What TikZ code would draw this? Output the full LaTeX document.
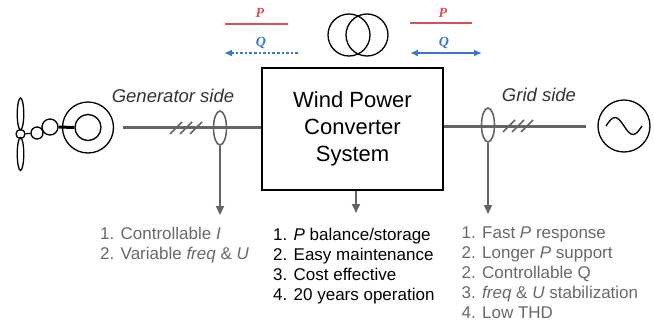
\documentclass[tikz,border=0pt]{standalone}
\usepackage{fontspec}
\setmainfont{Liberation Sans}
\newfontfamily\pqfont{Liberation Serif}
\usetikzlibrary{shapes.geometric,arrows.meta}
\definecolor{wire}{RGB}{100,100,100}
\definecolor{txtgray}{RGB}{105,105,105}
\definecolor{pred}{RGB}{214,82,82}
\definecolor{qblue}{RGB}{58,118,204}
\begin{document}
\begin{tikzpicture}[x=1pt,y=-1pt,
  symb/.style={draw=black,line width=1.3pt,inner sep=0pt},
  ring/.style={symb,circle},
  wireline/.style={draw=wire,line width=3pt},
  ctring/.style={ellipse,draw=wire,line width=1.6pt,inner sep=0pt,minimum width=13pt,minimum height=34pt},
  hashmark/.style={draw=wire,line width=1.6pt},
  downarrow/.style={draw=wire,line width=1.6pt,-{Triangle[length=9pt,width=8pt]}},
  sidelabel/.style={font=\itshape\fontsize{18.5}{20}\selectfont,text=black!80,inner sep=0pt},
  listtext/.style={align=left,anchor=north west,inner sep=0pt,font=\fontsize{17}{20}\selectfont},
  plabel/.style={font=\pqfont\bfseries\itshape\fontsize{14}{14}\selectfont,text=pred,inner sep=0pt},
  qlabel/.style={font=\pqfont\bfseries\itshape\fontsize{14}{14}\selectfont,text=qblue,inner sep=0pt},
  pline/.style={draw=pred,line width=1.4pt},
  qline/.style={draw=qblue,line width=1.6pt},
  qtip/.style={-{Latex[length=8pt,width=7pt]}}
]
\useasboundingbox (0,0) rectangle (654,324);

% converter box
\node[draw=black,line width=1.5pt,minimum width=181pt,minimum height=122pt,align=center,
      font=\fontsize{22}{26.7}\selectfont] (conv) at (352.5,129) {Wind Power\\Converter\\System};

% transformer
\node[ring,minimum size=42pt] (tr1) at (349,35) {};
\node[ring,minimum size=42pt] (tr2) at (367,35) {};

% P / Q flows left
\coordinate (pL1) at (225,24); \coordinate (pL2) at (288,24);
\draw[pline] (pL1) -- (pL2);
\node[plabel] (pLlab) at (260,13) {P};
\coordinate (qL1) at (298,53); \coordinate (qL2) at (224,53);
\draw[qline,qtip,dash pattern=on 2.6pt off 2pt] (qL1) -- (qL2);
\node[qlabel] (qLlab) at (261,43) {Q};

% P / Q flows right
\coordinate (pR1) at (410,23); \coordinate (pR2) at (472,23);
\draw[pline] (pR1) -- (pR2);
\node[plabel] (pRlab) at (443,13) {P};
\coordinate (qR1) at (410,53); \coordinate (qR2) at (482,53);
\draw[qline,{Latex[length=8pt,width=7pt]}-{Latex[length=8pt,width=7pt]}] (qR1) -- (qR2);
\node[qlabel] (qRlab) at (444,43) {Q};

% wind turbine + generator
\node[ring,minimum size=51pt] (gen) at (88,127.5) {};
\node[ring,minimum size=26pt] (genin) at (88,127.5) {};
\node[ring,minimum size=16pt] (gb1) at (50,127) {};
\node[ring,minimum size=12pt] (gb2) at (37,133) {};
\node[ring,minimum size=9pt] (hub) at (20.5,134) {};
\node[symb,ellipse,minimum width=6.5pt,minimum height=32pt] (bladeU) at (20.5,114) {};
\node[symb,ellipse,minimum width=6.5pt,minimum height=33pt] (bladeD) at (20.5,154) {};
\draw[line width=3pt] (gb1.east) -- (genin.west);
\draw[line width=1.3pt] (hub) -- (gb2);

% generator side line
\draw[wireline,shorten <=9pt] (gen.east) -- (gen.east -| conv.west);
\foreach \x in {170,180,190} \draw[hashmark] (\x,134) -- ++(12,-12);
\node[ctring] (ctL) at (220,128) {};
\coordinate (tipL) at (220,215);
\draw[downarrow] (ctL.south) -- (tipL);
\node[sidelabel] (genlab) at (173,96) {Generator side};

% grid side
\node[ring,minimum size=52pt] (ac) at (624,126) {};
\draw[line width=1.3pt] ([xshift=-18pt]ac.center) sin ++(9,-8.5) cos ++(9,8.5) sin ++(9,8.5) cos ++(9,-8.5);
\draw[wireline,shorten >=11pt] (conv.east |- ac.west) -- (ac.west);
\foreach \x in {503,512,521} \draw[hashmark] (\x,132) -- ++(12,-12);
\node[ctring] (ctR) at (488,125) {};
\coordinate (tipR) at (488,214);
\draw[downarrow] (ctR.south) -- (tipR);
\node[sidelabel] (gridlab) at (539,95) {Grid side};

% converter down arrow
\coordinate (tipM) at (356,213);
\draw[downarrow] (conv.south -| tipM) -- (tipM);

% lists
\node[listtext,text=txtgray] (listL) at (100,227)
  {1. Controllable \textit{I}\\2. Variable \textit{freq} \& \textit{U}};
\node[listtext,text=black] (listM) at (273,228)
  {1. \textit{P} balance/storage\\2. Easy maintenance\\3. Cost effective\\4. 20 years operation};
\node[listtext,text=txtgray] (listR) at (461.5,227)
  {1. Fast \textit{P} response\\2. Longer \textit{P} support\\2. Controllable Q\\3. \textit{freq} \& \textit{U} stabilization\\4. Low THD};
\end{tikzpicture}
\end{document}
